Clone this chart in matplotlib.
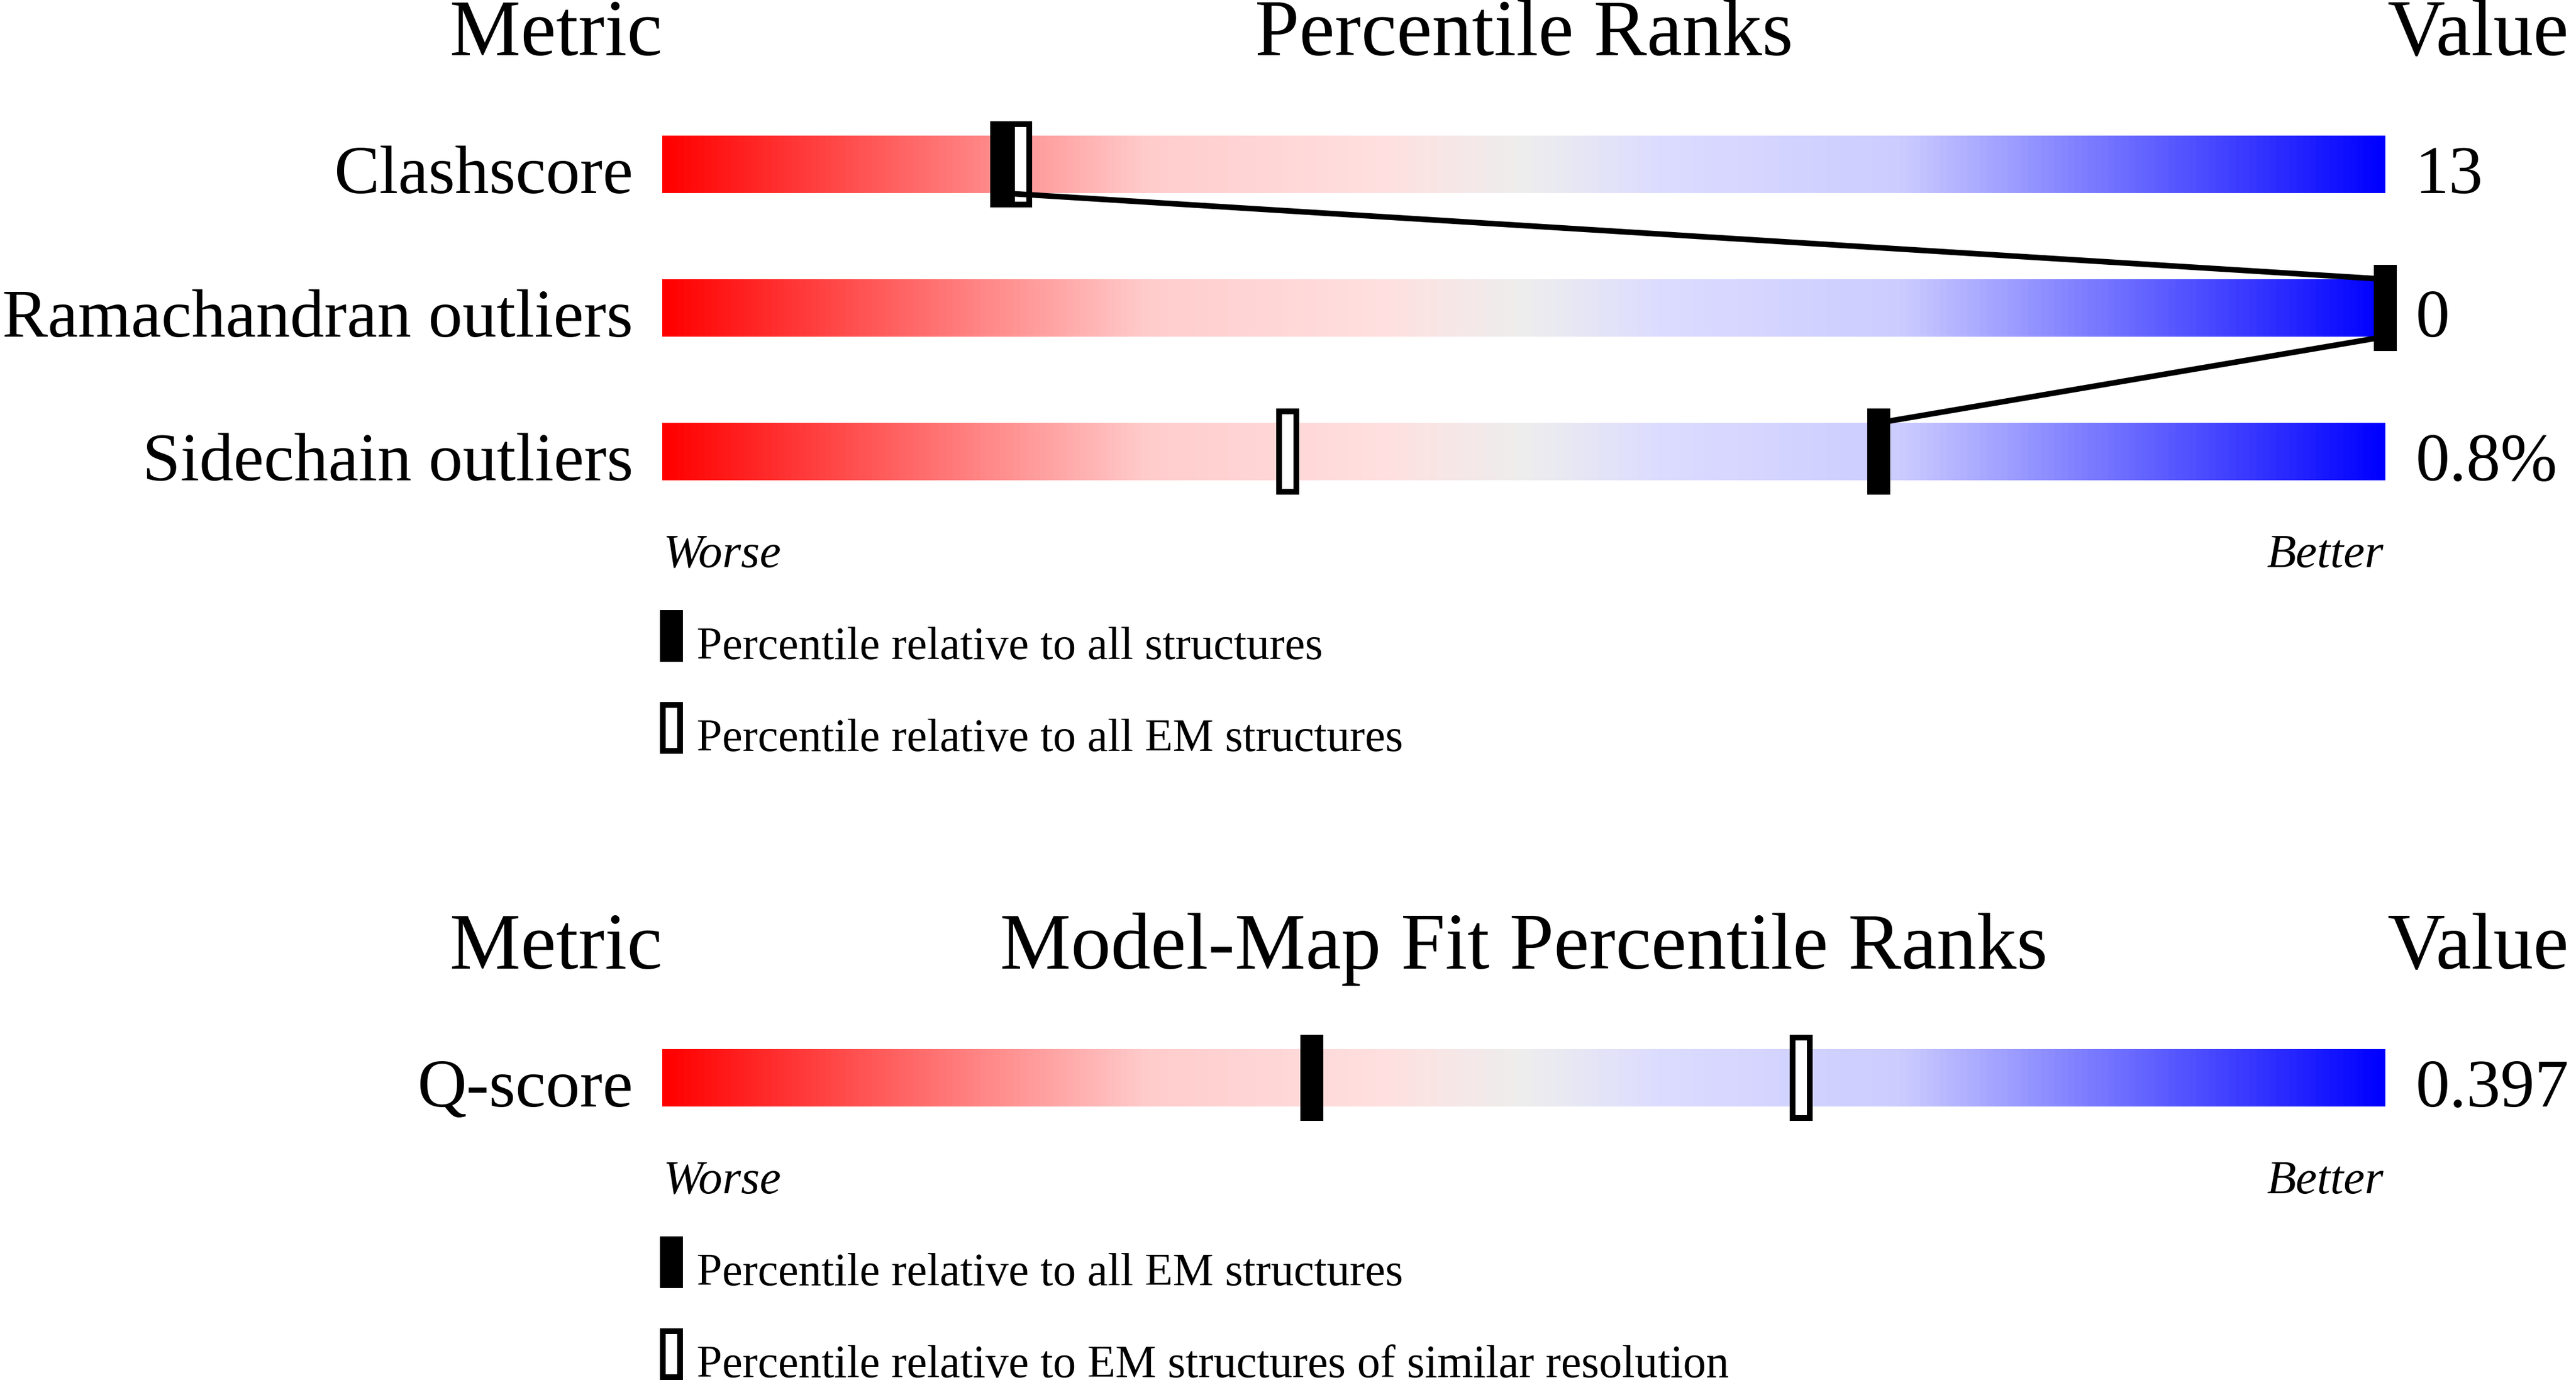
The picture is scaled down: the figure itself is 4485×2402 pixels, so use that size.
import numpy as np
import matplotlib
matplotlib.use('Agg')
import matplotlib.pyplot as plt
from matplotlib.colors import LinearSegmentedColormap
from matplotlib.patches import Rectangle

# Percentile data
metrics = ['Clashscore', 'Ramachandran outliers', 'Sidechain outliers']
values = ['13', '0', '0.8%']
pct_all = [19.7, 100.0, 70.6]      # relative to all structures (filled)
pct_em = [20.8, 100.0, 36.3]       # relative to all EM structures (open)

fit_metrics = ['Q-score']
fit_values = ['0.397']
fit_pct_em = [37.7]                # relative to all EM structures (filled)
fit_pct_res = [66.1]               # EM structures of similar resolution (open)

legend_top = ['Percentile relative to all structures',
              'Percentile relative to all EM structures']
legend_fit = ['Percentile relative to all EM structures',
              'Percentile relative to EM structures of similar resolution']

W, H = 4485, 2402
plt.rcParams['font.family'] = ['Liberation Serif', 'DejaVu Serif']

fig = plt.figure(figsize=(W / 100, H / 100), dpi=100)
ax = fig.add_axes([0, 0, 1, 1])

cmap = LinearSegmentedColormap.from_list('slider', [
    (0.0, '#ff0000'), (0.28, '#ffcccc'), (0.42, '#ffe0e0'), (0.5, '#eeeeee'),
    (0.58, '#dcdcff'), (0.72, '#ccccff'), (1.0, '#0000ff')])
grad = np.linspace(0, 1, 512).reshape(1, -1)

x0, bw = 1153, 3000      # bar left, bar width (px)
bh = 100                 # bar height
mw, mh = 40, 150         # marker size
lab_fs, head_fs, leg_fs = 85.5, 100, 57.5


def px(p):
    return x0 + p / 100 * bw


def draw_bar(top, label, value):
    ax.imshow(grad, cmap=cmap, aspect='auto', extent=(x0, x0 + bw, top + bh, top),
              zorder=1, interpolation='bilinear')
    ax.text(x0 - 51, top + bh, label, ha='right', va='baseline', fontsize=lab_fs)
    ax.text(x0 + bw + 52, top + bh, value, ha='left', va='baseline', fontsize=lab_fs)


def marker(p, top, filled):
    cy = top + bh / 2
    if filled:
        ax.add_patch(Rectangle((px(p) - mw / 2, cy - mh / 2), mw, mh,
                               facecolor='black', edgecolor='none', zorder=4))
    else:
        ax.add_patch(Rectangle((px(p) - mw / 2 + 5, cy - mh / 2 + 5), mw - 10, mh - 10,
                               facecolor='white', edgecolor='black', lw=7.2, zorder=2))


def headers(base, title):
    ax.text(x0, base, 'Metric', ha='right', va='baseline', fontsize=head_fs)
    ax.text(x0 + bw / 2, base, title, ha='center', va='baseline', fontsize=head_fs)
    ax.text(x0 + bw + 3, base, 'Value', ha='left', va='baseline', fontsize=head_fs)


def footer(base, labels):
    ax.text(x0 + 2, base, 'Worse', ha='left', va='baseline', fontsize=60, style='italic')
    ax.text(x0 + bw - 3, base, 'Better', ha='right', va='baseline', fontsize=60, style='italic')
    for i, lab in enumerate(labels):
        top = base + 75 + i * 160
        if i == 0:
            ax.add_patch(Rectangle((x0 - 4, top), mw, 90, facecolor='black',
                                   edgecolor='none', zorder=4))
        else:
            ax.add_patch(Rectangle((x0 + 1, top + 5), mw - 10, 80, facecolor='white',
                                   edgecolor='black', lw=7.2, zorder=4))
        ax.text(x0 + 60, top + 85, lab, ha='left', va='baseline', fontsize=leg_fs)


# top panel
headers(96, 'Percentile Ranks')
tops = [236 + 250 * i for i in range(len(metrics))]
for top, m, v, pa, pe in zip(tops, metrics, values, pct_all, pct_em):
    draw_bar(top, m, v)
    marker(pe, top, False)
    marker(pa, top, True)
# connecting line between filled markers
for i in range(len(metrics) - 1):
    ax.plot([px(pct_all[i]), px(pct_all[i + 1])], [tops[i] + bh, tops[i + 1]],
            color='black', lw=7, zorder=3, solid_capstyle='butt')
footer(tops[-1] + bh + 151, legend_top)

# bottom panel
headers(1686, 'Model-Map Fit Percentile Ranks')
ftops = [1826 + 250 * i for i in range(len(fit_metrics))]
for top, m, v, pa, pr in zip(ftops, fit_metrics, fit_values, fit_pct_em, fit_pct_res):
    draw_bar(top, m, v)
    marker(pr, top, False)
    marker(pa, top, True)
footer(ftops[-1] + bh + 151, legend_fit)

ax.set_xlim(0, W)
ax.set_ylim(H, 0)
ax.axis('off')
fig.savefig('out.png', dpi=100, facecolor='white')
